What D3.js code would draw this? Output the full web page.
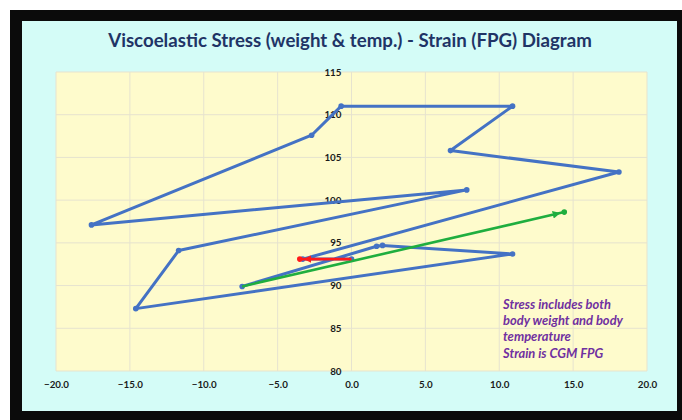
<!DOCTYPE html>
<html>
<head>
<meta charset="utf-8">
<script src="https://cdn.jsdelivr.net/npm/d3@7"></script>
<style>
  html, body { margin: 0; padding: 0; background: #ffffff; }
  svg { display: block; }
</style>
</head>
<body>
<svg id="chart" width="682" height="420"></svg>
<script>
// ---------- data ----------
const titleText = "Viscoelastic Stress (weight & temp.) - Strain (FPG) Diagram";
const xTicks = [-20, -15, -10, -5, 0, 5, 10, 15, 20];
const yTicks = [80, 85, 90, 95, 100, 105, 110, 115];
// blue path (strain FPG, stress)
const blueX = [-7.4, 1.7, 2.1, 10.9, -14.6, -11.7, 7.8, -17.6, -2.7, -0.7, 10.9, 6.7, 18.1, -3.3, 0.0];
const blueY = [89.9, 94.6, 94.7, 93.7, 87.3, 94.1, 101.2, 97.1, 107.6, 111.0, 111.0, 105.8, 103.3, 93.1, 93.1];
// green arrow
const greenX = [-7.4, 14.4];
const greenY = [89.9, 98.6];
// red arrow
const redX = [0.0, -3.5];
const redY = [93.1, 93.1];
const noteLines = ["Stress includes both", "body weight and body", "temperature", "Strain is CGM FPG"];

// ---------- layout ----------
const svg = d3.select("#chart");
const plot = { left: 56, right: 647, top: 72, bottom: 371 };

// frame
svg.append("rect").attr("x", 10).attr("y", 10).attr("width", 672).attr("height", 410).attr("fill", "#0b0b0b");
svg.append("rect").attr("x", 22).attr("y", 21).attr("width", 655).attr("height", 390).attr("fill", "#d4fcf7");

// plot background
svg.append("rect")
  .attr("x", plot.left).attr("y", plot.top)
  .attr("width", plot.right - plot.left).attr("height", plot.bottom - plot.top)
  .attr("fill", "#fefbcc");

const x = d3.scaleLinear().domain([-20, 20]).range([plot.left, plot.right]);
const y = d3.scaleLinear().domain([80, 115]).range([plot.bottom, plot.top]);

// gridlines
const grid = svg.append("g");
grid.selectAll(".gx").data(xTicks).join("line")
  .attr("x1", d => x(d)).attr("x2", d => x(d))
  .attr("y1", plot.top).attr("y2", plot.bottom)
  .attr("stroke", "#e6e3cf").attr("stroke-width", 1);
grid.selectAll(".gy").data(yTicks).join("line")
  .attr("x1", plot.left).attr("x2", plot.right)
  .attr("y1", d => y(d)).attr("y2", d => y(d))
  .attr("stroke", "#e6e3cf").attr("stroke-width", 1);

// x axis (labels below plot)
const xAxis = svg.append("g")
  .attr("transform", `translate(0,${plot.bottom})`)
  .call(d3.axisBottom(x).tickValues(xTicks).tickFormat(d3.format(".1f")).tickSize(0).tickPadding(10));
xAxis.select(".domain").remove();
xAxis.selectAll("text")
  .attr("font-family", "Lato, 'Open Sans', sans-serif")
  .attr("font-weight", "bold").attr("font-size", "9.8px").attr("fill", "#1a1a1a");

// y axis at x = 0
const yAxis = svg.append("g")
  .attr("transform", `translate(${x(0)},0)`)
  .call(d3.axisLeft(y).tickValues(yTicks).tickFormat(d3.format("d")).tickSize(0).tickPadding(10));
yAxis.select(".domain").remove();
yAxis.selectAll("text")
  .attr("font-family", "Lato, 'Open Sans', sans-serif")
  .attr("font-weight", "bold").attr("font-size", "9.8px").attr("fill", "#1a1a1a");

// arrow markers
const defs = svg.append("defs");
function arrowMarker(id, color) {
  defs.append("marker")
    .attr("id", id).attr("viewBox", "0 0 20 10")
    .attr("refX", 15).attr("refY", 5)
    .attr("markerWidth", 6).attr("markerHeight", 3)
    .attr("markerUnits", "strokeWidth")
    .attr("orient", "auto")
    .append("path").attr("d", "M0,0 L10,5 L0,10 Z").attr("fill", color);
}
arrowMarker("arrGreen", "#1fae3f");
arrowMarker("arrRed", "#ff1a1a");

// blue path
const blue = blueX.map((d, i) => [d, blueY[i]]);
const line = d3.line().x(d => x(d[0])).y(d => y(d[1]));
svg.append("path").datum(blue)
  .attr("d", line).attr("fill", "none")
  .attr("stroke", "#4472c4").attr("stroke-width", 3).attr("stroke-linejoin", "round");
svg.selectAll(".bdot").data(blue).join("circle")
  .attr("cx", d => x(d[0])).attr("cy", d => y(d[1])).attr("r", 2.8)
  .attr("fill", "#4472c4");

// green arrow
const green = greenX.map((d, i) => [d, greenY[i]]);
svg.append("path").datum(green)
  .attr("d", line).attr("fill", "none")
  .attr("stroke", "#1fae3f").attr("stroke-width", 2.6)
  .attr("marker-end", "url(#arrGreen)");
svg.append("circle").attr("cx", x(green[1][0])).attr("cy", y(green[1][1])).attr("r", 2.8).attr("fill", "#1fae3f");

// red arrow
const red = redX.map((d, i) => [d, redY[i]]);
svg.append("path").datum(red)
  .attr("d", line).attr("fill", "none")
  .attr("stroke", "#ff1a1a").attr("stroke-width", 2.6)
  .attr("marker-end", "url(#arrRed)");
svg.append("circle").attr("cx", x(red[1][0])).attr("cy", y(red[1][1])).attr("r", 2.8).attr("fill", "#ff1a1a");

// title
const title = svg.append("text")
  .attr("x", 350).attr("y", 47).attr("text-anchor", "middle")
  .attr("font-family", "Lato, 'Open Sans', sans-serif").attr("font-weight", "bold")
  .attr("font-size", "20px").attr("fill", "#1f3466")
  .text(titleText);
const tw = title.node().getComputedTextLength();
title.attr("font-size", (20 * 484 / tw).toFixed(2) + "px");

// note
const note = svg.append("text")
  .attr("font-family", "Lato, 'Open Sans', sans-serif").attr("font-weight", "bold")
  .attr("font-style", "italic").attr("font-size", "12.5px").attr("fill", "#7030a0");
note.selectAll("tspan").data(noteLines).join("tspan")
  .attr("x", 503).attr("y", (d, i) => 309 + i * 16.2).text(d => d);
const nw = note.select("tspan").node().getComputedTextLength();
note.attr("font-size", (12.5 * 108 / nw).toFixed(2) + "px");
</script>
</body>
</html>
